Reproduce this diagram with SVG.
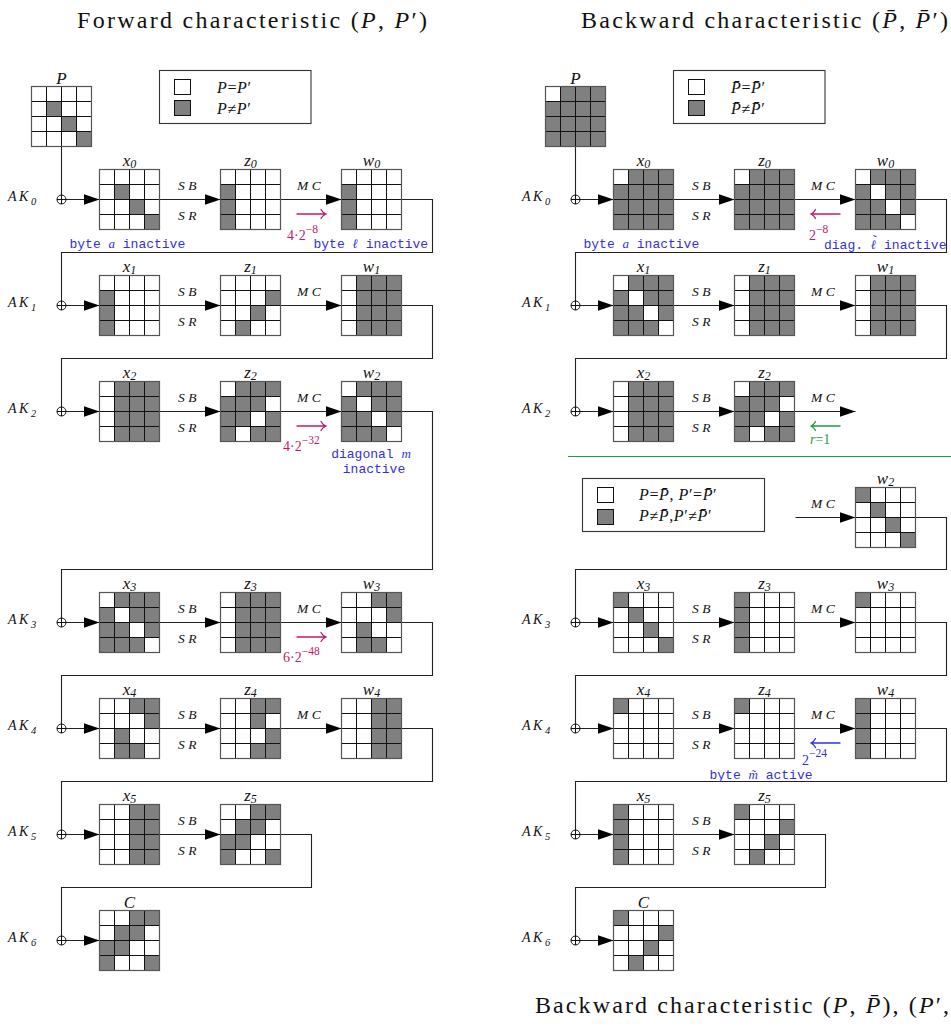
<svg xmlns="http://www.w3.org/2000/svg" xmlns:xlink="http://www.w3.org/1999/xlink" width="951" height="1033" viewBox="0 0 951 1033">
<style>
.title{font-family:"Liberation Serif",serif;font-size:24px;fill:#111}
.m{font-style:italic}
.lab{font-family:"Liberation Serif",serif;font-style:italic;font-size:17px;text-anchor:middle;fill:#111}
.sub{font-size:12px}
.leg{font-family:"Liberation Serif",serif;font-size:16px;fill:#111;letter-spacing:0.6px}
.op{font-family:"Liberation Serif",serif;font-style:italic;font-size:13.5px;fill:#111;letter-spacing:3.5px}
.ak{font-family:"Liberation Serif",serif;font-style:italic;font-size:14px;fill:#111;letter-spacing:2.5px}
.aks{font-size:10.5px}
.tt{font-family:"Liberation Mono",monospace;font-size:13px}
.blue{fill:#3030e0}
.red{fill:#c4196e}
.green{fill:#1e9a4a}
.num{font-family:"Liberation Serif",serif;font-size:14px}
.sup{font-size:11.5px}
.on{fill:#808080}
.bg{fill:#fff}
.gl{fill:none;stroke:#111;stroke-width:1}
.frame{fill:none;stroke:#555;stroke-width:1.2}
.conn{fill:none;stroke:#222;stroke-width:1.1}
.xor{fill:#fff;stroke:#111;stroke-width:1}
.box{fill:#fff;stroke:#333;stroke-width:1.1}
.ann{fill:none;stroke-width:1.3;stroke-linecap:round}
.mi{font-family:"DejaVu Serif",serif;font-style:italic}
</style>
<defs>
<g id="grid"><path class="gl" d="M15,0V60M30,0V60M45,0V60M0,15H60M0,30H60M0,45H60"/><rect class="frame" width="60" height="60"/></g>
<g id="ox"><circle class="xor" r="4.5"/><path class="gl" d="M-4.5,0H4.5M0,-4.5V4.5"/></g>
<marker id="ah" markerUnits="userSpaceOnUse" viewBox="0 0 16 11" refX="16" refY="5.5" markerWidth="16" markerHeight="11" orient="auto"><path d="M0,0L16,5.5L0,11z" fill="#000"/></marker>
</defs>
<rect width="951" height="1033" fill="#fff"/>

<!-- Titles -->
<text class="title" x="77" y="28" textLength="350" lengthAdjust="spacing">Forward characteristic (<tspan class="m">P</tspan>, <tspan class="m">P</tspan>′)</text>
<text class="title" x="581" y="28" textLength="367" lengthAdjust="spacing">Backward characteristic (<tspan class="m">P&#x304;</tspan>, <tspan class="m">P&#x304;</tspan>′)</text>
<text class="title" x="535" y="1013" textLength="414" lengthAdjust="spacing">Backward characteristic (<tspan class="m">P</tspan>, <tspan class="m">P&#x304;</tspan>), (<tspan class="m">P</tspan>′,</text>

<!-- Legends -->
<g id="legend1">
<rect class="box" x="159.5" y="70.5" width="151.5" height="53"/>
<rect x="174.5" y="79.5" width="16" height="15" fill="#fff" stroke="#111"/>
<rect x="174.5" y="100.5" width="16" height="15" class="on" stroke="#111"/>
<text class="leg" x="217" y="93"><tspan class="m">P</tspan>=<tspan class="m">P</tspan>′</text>
<text class="leg" x="217" y="114"><tspan class="m">P</tspan>≠<tspan class="m">P</tspan>′</text>
</g>
<g id="legend2">
<rect class="box" x="673.5" y="70.5" width="151.5" height="53"/>
<rect x="688.5" y="79.5" width="16" height="15" fill="#fff" stroke="#111"/>
<rect x="688.5" y="100.5" width="16" height="15" class="on" stroke="#111"/>
<text class="leg" x="731" y="93"><tspan class="m">P&#x304;</tspan>=<tspan class="m">P&#x304;</tspan>′</text>
<text class="leg" x="731" y="114"><tspan class="m">P&#x304;</tspan>≠<tspan class="m">P&#x304;</tspan>′</text>
</g>
<g id="legend3">
<rect class="box" x="582.5" y="478.5" width="182" height="53"/>
<rect x="597.5" y="487.5" width="16" height="15" fill="#fff" stroke="#111"/>
<rect x="597.5" y="509.5" width="16" height="15" class="on" stroke="#111"/>
<text class="leg" x="639" y="500"><tspan class="m">P</tspan>=<tspan class="m">P&#x304;</tspan>, <tspan class="m">P</tspan>′=<tspan class="m">P&#x304;</tspan>′</text>
<text class="leg" x="639" y="521"><tspan class="m">P</tspan>≠<tspan class="m">P&#x304;</tspan>,<tspan class="m">P</tspan>′≠<tspan class="m">P&#x304;</tspan>′</text>
</g>

<!-- Connectors -->
<g id="connectors">
<path class="conn" d="M61.5,146.5V195"/>
<path class="conn" d="M575.5,146.5V195"/>
<path class="conn" marker-end="url(#ah)" d="M66,199.5H99.5"/>
<path class="conn" marker-end="url(#ah)" d="M159.5,199.5H220.5"/>
<path class="conn" marker-end="url(#ah)" d="M280.5,199.5H341.5"/>
<path class="conn" d="M401.5,199.5H432.5V252.5H61.5V301"/>
<path class="conn" marker-end="url(#ah)" d="M66,305.5H99.5"/>
<path class="conn" marker-end="url(#ah)" d="M159.5,305.5H220.5"/>
<path class="conn" marker-end="url(#ah)" d="M280.5,305.5H341.5"/>
<path class="conn" d="M401.5,305.5H432.5V358.5H61.5V407"/>
<path class="conn" marker-end="url(#ah)" d="M66,411.5H99.5"/>
<path class="conn" marker-end="url(#ah)" d="M159.5,411.5H220.5"/>
<path class="conn" marker-end="url(#ah)" d="M280.5,411.5H341.5"/>
<path class="conn" d="M401.5,411.5H432.5V569.5H61.5V618"/>
<path class="conn" marker-end="url(#ah)" d="M66,622.5H99.5"/>
<path class="conn" marker-end="url(#ah)" d="M159.5,622.5H220.5"/>
<path class="conn" marker-end="url(#ah)" d="M280.5,622.5H341.5"/>
<path class="conn" d="M401.5,622.5H432.5V675.5H61.5V724"/>
<path class="conn" marker-end="url(#ah)" d="M66,728.5H99.5"/>
<path class="conn" marker-end="url(#ah)" d="M159.5,728.5H220.5"/>
<path class="conn" marker-end="url(#ah)" d="M280.5,728.5H341.5"/>
<path class="conn" d="M401.5,728.5H432.5V781.5H61.5V830"/>
<path class="conn" marker-end="url(#ah)" d="M66,834.5H99.5"/>
<path class="conn" marker-end="url(#ah)" d="M159.5,834.5H220.5"/>
<path class="conn" d="M280.5,834.5H311.5V887.5H61.5V936"/>
<path class="conn" marker-end="url(#ah)" d="M66,940.5H99.5"/>
<path class="conn" marker-end="url(#ah)" d="M580,199.5H613.5"/>
<path class="conn" marker-end="url(#ah)" d="M673.5,199.5H734.5"/>
<path class="conn" marker-end="url(#ah)" d="M794.5,199.5H855.5"/>
<path class="conn" d="M915.5,199.5H946.5V252.5H575.5V301"/>
<path class="conn" marker-end="url(#ah)" d="M580,305.5H613.5"/>
<path class="conn" marker-end="url(#ah)" d="M673.5,305.5H734.5"/>
<path class="conn" marker-end="url(#ah)" d="M794.5,305.5H855.5"/>
<path class="conn" d="M915.5,305.5H946.5V358.5H575.5V407"/>
<path class="conn" marker-end="url(#ah)" d="M580,411.5H613.5"/>
<path class="conn" marker-end="url(#ah)" d="M673.5,411.5H734.5"/>
<path class="conn" marker-end="url(#ah)" d="M794.5,411.5H855.5"/>
<path class="conn" marker-end="url(#ah)" d="M795.5,517.5H855.5"/>
<path class="conn" d="M915.5,517.5H946.5V569.5H575.5V618"/>
<path class="conn" marker-end="url(#ah)" d="M580,622.5H613.5"/>
<path class="conn" marker-end="url(#ah)" d="M673.5,622.5H734.5"/>
<path class="conn" marker-end="url(#ah)" d="M794.5,622.5H855.5"/>
<path class="conn" d="M915.5,622.5H946.5V675.5H575.5V724"/>
<path class="conn" marker-end="url(#ah)" d="M580,728.5H613.5"/>
<path class="conn" marker-end="url(#ah)" d="M673.5,728.5H734.5"/>
<path class="conn" marker-end="url(#ah)" d="M794.5,728.5H855.5"/>
<path class="conn" d="M915.5,728.5H946.5V781.5H575.5V830"/>
<path class="conn" marker-end="url(#ah)" d="M580,834.5H613.5"/>
<path class="conn" marker-end="url(#ah)" d="M673.5,834.5H734.5"/>
<path class="conn" d="M794.5,834.5H825.5V887.5H575.5V936"/>
<path class="conn" marker-end="url(#ah)" d="M580,940.5H613.5"/>
<path d="M568,456.5H951" stroke="#1e9a4a" stroke-width="1.2"/>
</g>

<!-- XOR nodes -->
<g id="xors">
<use href="#ox" x="61.5" y="199.5"/><use href="#ox" x="61.5" y="305.5"/><use href="#ox" x="61.5" y="411.5"/><use href="#ox" x="61.5" y="622.5"/><use href="#ox" x="61.5" y="728.5"/><use href="#ox" x="61.5" y="834.5"/><use href="#ox" x="61.5" y="940.5"/>
<use href="#ox" x="575.5" y="199.5"/><use href="#ox" x="575.5" y="305.5"/><use href="#ox" x="575.5" y="411.5"/><use href="#ox" x="575.5" y="622.5"/><use href="#ox" x="575.5" y="728.5"/><use href="#ox" x="575.5" y="834.5"/><use href="#ox" x="575.5" y="940.5"/>
</g>

<!-- AK labels -->
<g id="aklabels">
<text class="ak" x="8" y="201">AK<tspan class="aks" dy="4">0</tspan></text>
<text class="ak" x="8" y="307">AK<tspan class="aks" dy="4">1</tspan></text>
<text class="ak" x="8" y="413">AK<tspan class="aks" dy="4">2</tspan></text>
<text class="ak" x="8" y="624">AK<tspan class="aks" dy="4">3</tspan></text>
<text class="ak" x="8" y="730">AK<tspan class="aks" dy="4">4</tspan></text>
<text class="ak" x="8" y="836">AK<tspan class="aks" dy="4">5</tspan></text>
<text class="ak" x="8" y="942">AK<tspan class="aks" dy="4">6</tspan></text>
<text class="ak" x="522" y="201">AK<tspan class="aks" dy="4">0</tspan></text>
<text class="ak" x="522" y="307">AK<tspan class="aks" dy="4">1</tspan></text>
<text class="ak" x="522" y="413">AK<tspan class="aks" dy="4">2</tspan></text>
<text class="ak" x="522" y="624">AK<tspan class="aks" dy="4">3</tspan></text>
<text class="ak" x="522" y="730">AK<tspan class="aks" dy="4">4</tspan></text>
<text class="ak" x="522" y="836">AK<tspan class="aks" dy="4">5</tspan></text>
<text class="ak" x="522" y="942">AK<tspan class="aks" dy="4">6</tspan></text>
</g>

<!-- Operation labels -->
<g id="oplabels">
<text class="op" x="178" y="189.5">SB</text><text class="op" x="178" y="219.5">SR</text><text class="op" x="297" y="189.5">MC</text>
<text class="op" x="178" y="295.5">SB</text><text class="op" x="178" y="325.5">SR</text><text class="op" x="297" y="295.5">MC</text>
<text class="op" x="178" y="401.5">SB</text><text class="op" x="178" y="431.5">SR</text><text class="op" x="297" y="401.5">MC</text>
<text class="op" x="178" y="612.5">SB</text><text class="op" x="178" y="642.5">SR</text><text class="op" x="297" y="612.5">MC</text>
<text class="op" x="178" y="718.5">SB</text><text class="op" x="178" y="748.5">SR</text><text class="op" x="297" y="718.5">MC</text>
<text class="op" x="178" y="824.5">SB</text><text class="op" x="178" y="854.5">SR</text>
<text class="op" x="692" y="189.5">SB</text><text class="op" x="692" y="219.5">SR</text><text class="op" x="811" y="189.5">MC</text>
<text class="op" x="692" y="295.5">SB</text><text class="op" x="692" y="325.5">SR</text><text class="op" x="811" y="295.5">MC</text>
<text class="op" x="692" y="401.5">SB</text><text class="op" x="692" y="431.5">SR</text><text class="op" x="811" y="401.5">MC</text>
<text class="op" x="811" y="507.5">MC</text>
<text class="op" x="692" y="612.5">SB</text><text class="op" x="692" y="642.5">SR</text><text class="op" x="811" y="612.5">MC</text>
<text class="op" x="692" y="718.5">SB</text><text class="op" x="692" y="748.5">SR</text><text class="op" x="811" y="718.5">MC</text>
<text class="op" x="692" y="824.5">SB</text><text class="op" x="692" y="854.5">SR</text>
</g>

<!-- Annotations -->
<g id="annotations">
<path class="ann" stroke="#c4196e" d="M297,214H326M321,209.5Q322.5,212.5 326,214Q322.5,215.5 321,218.5"/>
<text class="num red" x="287" y="240">4·2<tspan class="sup" dy="-7">−8</tspan></text>
<text class="tt blue" x="69.5" y="247.5">byte <tspan font-family="Liberation Serif" font-style="italic">a</tspan> inactive</text>
<text class="tt blue" x="313.5" y="247.5">byte <tspan class="mi">ℓ</tspan> inactive</text>
<path class="ann" stroke="#c4196e" d="M297,426H326M321,421.5Q322.5,424.5 326,426Q322.5,427.5 321,430.5"/>
<text class="num red" x="283" y="451">4·2<tspan class="sup" dy="-7">−32</tspan></text>
<text class="tt blue" x="371" y="458" text-anchor="middle">diagonal <tspan font-family="Liberation Serif" font-style="italic">m</tspan></text>
<text class="tt blue" x="374" y="472.5" text-anchor="middle">inactive</text>
<path class="ann" stroke="#c4196e" d="M297,637H326M321,632.5Q322.5,635.5 326,637Q322.5,638.5 321,641.5"/>
<text class="num red" x="283" y="662">6·2<tspan class="sup" dy="-7">−48</tspan></text>
<path class="ann" stroke="#c4196e" d="M840,214H811M815.5,209.5Q814,212.5 811,214Q814,215.5 815.5,218.5"/>
<text class="num red" x="809" y="240">2<tspan class="sup" dy="-7">−8</tspan></text>
<text class="tt blue" x="583.5" y="247.5">byte <tspan font-family="Liberation Serif" font-style="italic">a</tspan> inactive</text>
<text class="tt blue" x="824" y="249" font-size="12.5">diag. <tspan class="mi">ℓ</tspan><tspan font-family="Liberation Serif" font-size="12" dx="-3.5" dy="-5">˜</tspan><tspan dx="-0.5" dy="5"> inactive</tspan></text>
<path class="ann" stroke="#1e9a4a" d="M840,426H811M815.5,421.5Q814,424.5 811,426Q814,427.5 815.5,430.5"/>
<text class="num green" x="810" y="444"><tspan font-style="italic">r</tspan>=1</text>
<path class="ann" stroke="#3030e0" d="M840,743H811M815.5,738.5Q814,741.5 811,743Q814,744.5 815.5,747.5"/>
<text class="num blue" x="802" y="765">2<tspan class="sup" dy="-8">−24</tspan></text>
<text class="tt blue" x="709.5" y="779">byte <tspan font-family="Liberation Serif" font-style="italic">m&#x303;</tspan> active</text>
</g>

<!-- ===== Left column nodes ===== -->
<g id="L-P"><rect class="bg" x="31.5" y="86.5" width="60" height="60"/><rect class="on" x="46.5" y="101.5" width="15" height="15"/><rect class="on" x="61.5" y="116.5" width="15" height="15"/><rect class="on" x="76.5" y="131.5" width="15" height="15"/><use href="#grid" x="31.5" y="86.5"/><text class="lab" x="61.5" y="83.5">P</text></g>
<g id="L-x0"><rect class="bg" x="99.5" y="169.5" width="60" height="60"/><rect class="on" x="114.5" y="184.5" width="15" height="15"/><rect class="on" x="129.5" y="199.5" width="15" height="15"/><rect class="on" x="144.5" y="214.5" width="15" height="15"/><use href="#grid" x="99.5" y="169.5"/><text class="lab" x="129.5" y="165.5">x<tspan class="sub" dy="2.5">0</tspan></text></g>
<g id="L-z0"><rect class="bg" x="220.5" y="169.5" width="60" height="60"/><rect class="on" x="220.5" y="184.5" width="15" height="45"/><use href="#grid" x="220.5" y="169.5"/><text class="lab" x="250.5" y="165.5">z<tspan class="sub" dy="2.5">0</tspan></text></g>
<g id="L-w0"><rect class="bg" x="341.5" y="169.5" width="60" height="60"/><rect class="on" x="341.5" y="184.5" width="15" height="45"/><use href="#grid" x="341.5" y="169.5"/><text class="lab" x="371.5" y="165.5">w<tspan class="sub" dy="2.5">0</tspan></text></g>

<g id="L-x1"><rect class="bg" x="99.5" y="275.5" width="60" height="60"/><rect class="on" x="99.5" y="290.5" width="15" height="45"/><use href="#grid" x="99.5" y="275.5"/><text class="lab" x="129.5" y="271.5">x<tspan class="sub" dy="2.5">1</tspan></text></g>
<g id="L-z1"><rect class="bg" x="220.5" y="275.5" width="60" height="60"/><rect class="on" x="265.5" y="290.5" width="15" height="15"/><rect class="on" x="250.5" y="305.5" width="15" height="15"/><rect class="on" x="235.5" y="320.5" width="15" height="15"/><use href="#grid" x="220.5" y="275.5"/><text class="lab" x="250.5" y="271.5">z<tspan class="sub" dy="2.5">1</tspan></text></g>
<g id="L-w1"><rect class="bg" x="341.5" y="275.5" width="60" height="60"/><rect class="on" x="356.5" y="275.5" width="45" height="60"/><use href="#grid" x="341.5" y="275.5"/><text class="lab" x="371.5" y="271.5">w<tspan class="sub" dy="2.5">1</tspan></text></g>

<g id="L-x2"><rect class="bg" x="99.5" y="381.5" width="60" height="60"/><rect class="on" x="114.5" y="381.5" width="45" height="60"/><use href="#grid" x="99.5" y="381.5"/><text class="lab" x="129.5" y="377.5">x<tspan class="sub" dy="2.5">2</tspan></text></g>
<g id="L-z2"><rect class="bg" x="220.5" y="381.5" width="60" height="60"/><rect class="on" x="235.5" y="381.5" width="45" height="15"/><rect class="on" x="220.5" y="396.5" width="45" height="15"/><rect class="on" x="220.5" y="411.5" width="30" height="15"/><rect class="on" x="265.5" y="411.5" width="15" height="15"/><rect class="on" x="220.5" y="426.5" width="15" height="15"/><rect class="on" x="250.5" y="426.5" width="30" height="15"/><use href="#grid" x="220.5" y="381.5"/><text class="lab" x="250.5" y="377.5">z<tspan class="sub" dy="2.5">2</tspan></text></g>
<g id="L-w2"><rect class="bg" x="341.5" y="381.5" width="60" height="60"/><rect class="on" x="356.5" y="381.5" width="45" height="15"/><rect class="on" x="341.5" y="396.5" width="15" height="15"/><rect class="on" x="371.5" y="396.5" width="30" height="15"/><rect class="on" x="341.5" y="411.5" width="30" height="15"/><rect class="on" x="386.5" y="411.5" width="15" height="15"/><rect class="on" x="341.5" y="426.5" width="45" height="15"/><use href="#grid" x="341.5" y="381.5"/><text class="lab" x="371.5" y="377.5">w<tspan class="sub" dy="2.5">2</tspan></text></g>

<g id="L-x3"><rect class="bg" x="99.5" y="592.5" width="60" height="60"/><rect class="on" x="114.5" y="592.5" width="45" height="15"/><rect class="on" x="99.5" y="607.5" width="15" height="15"/><rect class="on" x="129.5" y="607.5" width="30" height="15"/><rect class="on" x="99.5" y="622.5" width="30" height="15"/><rect class="on" x="144.5" y="622.5" width="15" height="15"/><rect class="on" x="99.5" y="637.5" width="45" height="15"/><use href="#grid" x="99.5" y="592.5"/><text class="lab" x="129.5" y="588.5">x<tspan class="sub" dy="2.5">3</tspan></text></g>
<g id="L-z3"><rect class="bg" x="220.5" y="592.5" width="60" height="60"/><rect class="on" x="235.5" y="592.5" width="45" height="60"/><use href="#grid" x="220.5" y="592.5"/><text class="lab" x="250.5" y="588.5">z<tspan class="sub" dy="2.5">3</tspan></text></g>
<g id="L-w3"><rect class="bg" x="341.5" y="592.5" width="60" height="60"/><rect class="on" x="371.5" y="592.5" width="30" height="15"/><rect class="on" x="386.5" y="607.5" width="15" height="15"/><rect class="on" x="356.5" y="622.5" width="15" height="15"/><rect class="on" x="356.5" y="637.5" width="30" height="15"/><use href="#grid" x="341.5" y="592.5"/><text class="lab" x="371.5" y="588.5">w<tspan class="sub" dy="2.5">3</tspan></text></g>

<g id="L-x4"><rect class="bg" x="99.5" y="698.5" width="60" height="60"/><rect class="on" x="129.5" y="698.5" width="30" height="15"/><rect class="on" x="144.5" y="713.5" width="15" height="15"/><rect class="on" x="114.5" y="728.5" width="15" height="15"/><rect class="on" x="114.5" y="743.5" width="30" height="15"/><use href="#grid" x="99.5" y="698.5"/><text class="lab" x="129.5" y="694.5">x<tspan class="sub" dy="2.5">4</tspan></text></g>
<g id="L-z4"><rect class="bg" x="220.5" y="698.5" width="60" height="60"/><rect class="on" x="250.5" y="698.5" width="30" height="15"/><rect class="on" x="250.5" y="713.5" width="15" height="15"/><rect class="on" x="265.5" y="728.5" width="15" height="15"/><rect class="on" x="250.5" y="743.5" width="30" height="15"/><use href="#grid" x="220.5" y="698.5"/><text class="lab" x="250.5" y="694.5">z<tspan class="sub" dy="2.5">4</tspan></text></g>
<g id="L-w4"><rect class="bg" x="341.5" y="698.5" width="60" height="60"/><rect class="on" x="371.5" y="698.5" width="30" height="60"/><use href="#grid" x="341.5" y="698.5"/><text class="lab" x="371.5" y="694.5">w<tspan class="sub" dy="2.5">4</tspan></text></g>

<g id="L-x5"><rect class="bg" x="99.5" y="804.5" width="60" height="60"/><rect class="on" x="129.5" y="804.5" width="30" height="60"/><use href="#grid" x="99.5" y="804.5"/><text class="lab" x="129.5" y="800.5">x<tspan class="sub" dy="2.5">5</tspan></text></g>
<g id="L-z5"><rect class="bg" x="220.5" y="804.5" width="60" height="60"/><rect class="on" x="250.5" y="804.5" width="30" height="15"/><rect class="on" x="235.5" y="819.5" width="30" height="15"/><rect class="on" x="220.5" y="834.5" width="30" height="15"/><rect class="on" x="220.5" y="849.5" width="15" height="15"/><rect class="on" x="265.5" y="849.5" width="15" height="15"/><use href="#grid" x="220.5" y="804.5"/><text class="lab" x="250.5" y="800.5">z<tspan class="sub" dy="2.5">5</tspan></text></g>
<g id="L-C"><rect class="bg" x="99.5" y="910.5" width="60" height="60"/><rect class="on" x="129.5" y="910.5" width="30" height="15"/><rect class="on" x="114.5" y="925.5" width="30" height="15"/><rect class="on" x="99.5" y="940.5" width="30" height="15"/><rect class="on" x="99.5" y="955.5" width="15" height="15"/><rect class="on" x="144.5" y="955.5" width="15" height="15"/><use href="#grid" x="99.5" y="910.5"/><text class="lab" x="129.5" y="907.5">C</text></g>

<!-- ===== Right column nodes ===== -->
<g id="R-P"><rect class="bg" x="545.5" y="86.5" width="60" height="60"/><rect class="on" x="560.5" y="86.5" width="45" height="15"/><rect class="on" x="545.5" y="101.5" width="60" height="45"/><use href="#grid" x="545.5" y="86.5"/><text class="lab" x="575.5" y="83.5">P</text></g>
<g id="R-x0"><rect class="bg" x="613.5" y="169.5" width="60" height="60"/><rect class="on" x="628.5" y="169.5" width="45" height="15"/><rect class="on" x="613.5" y="184.5" width="60" height="45"/><use href="#grid" x="613.5" y="169.5"/><text class="lab" x="643.5" y="165.5">x<tspan class="sub" dy="2.5">0</tspan></text></g>
<g id="R-z0"><rect class="bg" x="734.5" y="169.5" width="60" height="60"/><rect class="on" x="749.5" y="169.5" width="45" height="15"/><rect class="on" x="734.5" y="184.5" width="60" height="45"/><use href="#grid" x="734.5" y="169.5"/><text class="lab" x="764.5" y="165.5">z<tspan class="sub" dy="2.5">0</tspan></text></g>
<g id="R-w0"><rect class="bg" x="855.5" y="169.5" width="60" height="60"/><rect class="on" x="870.5" y="169.5" width="45" height="15"/><rect class="on" x="855.5" y="184.5" width="15" height="15"/><rect class="on" x="885.5" y="184.5" width="30" height="15"/><rect class="on" x="855.5" y="199.5" width="30" height="15"/><rect class="on" x="900.5" y="199.5" width="15" height="15"/><rect class="on" x="855.5" y="214.5" width="45" height="15"/><use href="#grid" x="855.5" y="169.5"/><text class="lab" x="885.5" y="165.5">w<tspan class="sub" dy="2.5">0</tspan></text></g>

<g id="R-x1"><rect class="bg" x="613.5" y="275.5" width="60" height="60"/><rect class="on" x="628.5" y="275.5" width="45" height="15"/><rect class="on" x="613.5" y="290.5" width="15" height="15"/><rect class="on" x="643.5" y="290.5" width="30" height="15"/><rect class="on" x="613.5" y="305.5" width="30" height="15"/><rect class="on" x="658.5" y="305.5" width="15" height="15"/><rect class="on" x="613.5" y="320.5" width="45" height="15"/><use href="#grid" x="613.5" y="275.5"/><text class="lab" x="643.5" y="271.5">x<tspan class="sub" dy="2.5">1</tspan></text></g>
<g id="R-z1"><rect class="bg" x="734.5" y="275.5" width="60" height="60"/><rect class="on" x="749.5" y="275.5" width="45" height="60"/><use href="#grid" x="734.5" y="275.5"/><text class="lab" x="764.5" y="271.5">z<tspan class="sub" dy="2.5">1</tspan></text></g>
<g id="R-w1"><rect class="bg" x="855.5" y="275.5" width="60" height="60"/><rect class="on" x="870.5" y="275.5" width="45" height="60"/><use href="#grid" x="855.5" y="275.5"/><text class="lab" x="885.5" y="271.5">w<tspan class="sub" dy="2.5">1</tspan></text></g>

<g id="R-x2"><rect class="bg" x="613.5" y="381.5" width="60" height="60"/><rect class="on" x="628.5" y="381.5" width="45" height="60"/><use href="#grid" x="613.5" y="381.5"/><text class="lab" x="643.5" y="377.5">x<tspan class="sub" dy="2.5">2</tspan></text></g>
<g id="R-z2"><rect class="bg" x="734.5" y="381.5" width="60" height="60"/><rect class="on" x="749.5" y="381.5" width="45" height="15"/><rect class="on" x="734.5" y="396.5" width="45" height="15"/><rect class="on" x="734.5" y="411.5" width="30" height="15"/><rect class="on" x="779.5" y="411.5" width="15" height="15"/><rect class="on" x="734.5" y="426.5" width="15" height="15"/><rect class="on" x="764.5" y="426.5" width="30" height="15"/><use href="#grid" x="734.5" y="381.5"/><text class="lab" x="764.5" y="377.5">z<tspan class="sub" dy="2.5">2</tspan></text></g>

<g id="R-w2"><rect class="bg" x="855.5" y="487.5" width="60" height="60"/><rect class="on" x="855.5" y="487.5" width="15" height="15"/><rect class="on" x="870.5" y="502.5" width="15" height="15"/><rect class="on" x="885.5" y="517.5" width="15" height="15"/><rect class="on" x="900.5" y="532.5" width="15" height="15"/><use href="#grid" x="855.5" y="487.5"/><text class="lab" x="885.5" y="483.5">w<tspan class="sub" dy="2.5">2</tspan></text></g>

<g id="R-x3"><rect class="bg" x="613.5" y="592.5" width="60" height="60"/><rect class="on" x="613.5" y="592.5" width="15" height="15"/><rect class="on" x="628.5" y="607.5" width="15" height="15"/><rect class="on" x="643.5" y="622.5" width="15" height="15"/><rect class="on" x="658.5" y="637.5" width="15" height="15"/><use href="#grid" x="613.5" y="592.5"/><text class="lab" x="643.5" y="588.5">x<tspan class="sub" dy="2.5">3</tspan></text></g>
<g id="R-z3"><rect class="bg" x="734.5" y="592.5" width="60" height="60"/><rect class="on" x="734.5" y="592.5" width="15" height="60"/><use href="#grid" x="734.5" y="592.5"/><text class="lab" x="764.5" y="588.5">z<tspan class="sub" dy="2.5">3</tspan></text></g>
<g id="R-w3"><rect class="bg" x="855.5" y="592.5" width="60" height="60"/><rect class="on" x="855.5" y="592.5" width="15" height="15"/><use href="#grid" x="855.5" y="592.5"/><text class="lab" x="885.5" y="588.5">w<tspan class="sub" dy="2.5">3</tspan></text></g>

<g id="R-x4"><rect class="bg" x="613.5" y="698.5" width="60" height="60"/><rect class="on" x="613.5" y="698.5" width="15" height="15"/><use href="#grid" x="613.5" y="698.5"/><text class="lab" x="643.5" y="694.5">x<tspan class="sub" dy="2.5">4</tspan></text></g>
<g id="R-z4"><rect class="bg" x="734.5" y="698.5" width="60" height="60"/><rect class="on" x="734.5" y="698.5" width="15" height="15"/><use href="#grid" x="734.5" y="698.5"/><text class="lab" x="764.5" y="694.5">z<tspan class="sub" dy="2.5">4</tspan></text></g>
<g id="R-w4"><rect class="bg" x="855.5" y="698.5" width="60" height="60"/><rect class="on" x="855.5" y="698.5" width="15" height="60"/><use href="#grid" x="855.5" y="698.5"/><text class="lab" x="885.5" y="694.5">w<tspan class="sub" dy="2.5">4</tspan></text></g>

<g id="R-x5"><rect class="bg" x="613.5" y="804.5" width="60" height="60"/><rect class="on" x="613.5" y="804.5" width="15" height="60"/><use href="#grid" x="613.5" y="804.5"/><text class="lab" x="643.5" y="800.5">x<tspan class="sub" dy="2.5">5</tspan></text></g>
<g id="R-z5"><rect class="bg" x="734.5" y="804.5" width="60" height="60"/><rect class="on" x="734.5" y="804.5" width="15" height="15"/><rect class="on" x="779.5" y="819.5" width="15" height="15"/><rect class="on" x="764.5" y="834.5" width="15" height="15"/><rect class="on" x="749.5" y="849.5" width="15" height="15"/><use href="#grid" x="734.5" y="804.5"/><text class="lab" x="764.5" y="800.5">z<tspan class="sub" dy="2.5">5</tspan></text></g>
<g id="R-C"><rect class="bg" x="613.5" y="910.5" width="60" height="60"/><rect class="on" x="613.5" y="910.5" width="15" height="15"/><rect class="on" x="658.5" y="925.5" width="15" height="15"/><rect class="on" x="643.5" y="940.5" width="15" height="15"/><rect class="on" x="628.5" y="955.5" width="15" height="15"/><use href="#grid" x="613.5" y="910.5"/><text class="lab" x="643.5" y="907.5">C</text></g>
</svg>
